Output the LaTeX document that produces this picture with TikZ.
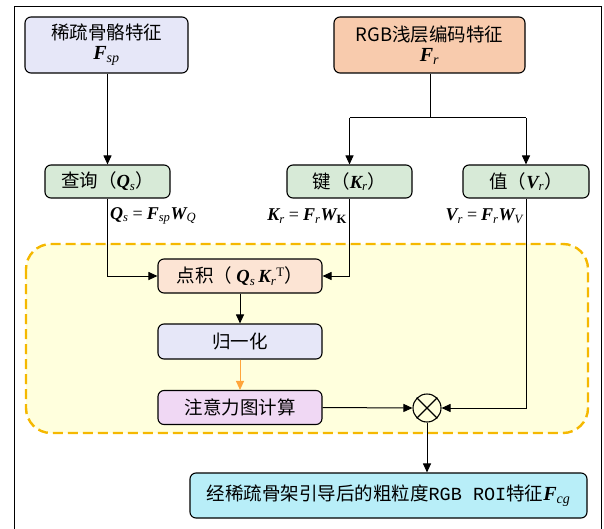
\documentclass[tikz,border=0pt]{standalone}
\usepackage{fontspec}
\setmainfont{Noto Sans CJK SC}
\newfontfamily\tnr{Liberation Serif}
\newfontfamily\monof{Liberation Mono}
\usetikzlibrary{arrows.meta}
\newcommand{\bv}[2]{{\tnr\bfseries\itshape #1}{\tnr\itshape\textsubscript{#2}}}
\definecolor{cLav}{HTML}{E6E7F8}
\definecolor{cOra}{HTML}{F8CBAD}
\definecolor{cGrn}{HTML}{D7EAD7}
\definecolor{cPch}{HTML}{FCE4D4}
\definecolor{cPur}{HTML}{F0D8F4}
\definecolor{cCyn}{HTML}{B8EEF8}
\definecolor{cYel}{HTML}{FFFFDD}
\definecolor{cDash}{HTML}{F5B800}
\definecolor{cArr}{HTML}{FFA53C}
\tikzset{
  box/.style={draw=black, line width=1.1pt, rounded corners=6pt, align=center,
    inner sep=0pt, font=\fontsize{18.5}{21}\selectfont},
  arr/.style={-{Triangle[length=9pt,width=8pt]}, line width=1pt},
  ln/.style={line width=1pt},
  lbl/.style={font=\fontsize{18}{20}\selectfont, inner sep=0pt}
}
\begin{document}
\begin{tikzpicture}[x=1pt,y=-1pt]
\useasboundingbox (0,0) rectangle (604,529);
% frame
\draw[line width=1pt] (14,529) -- (14,7) -- (601,7) -- (601,529);
% dashed region
\draw[draw=cDash, fill=cYel, line width=2.4pt, dash pattern=on 10pt off 5pt, rounded corners=25pt]
  (26,244) rectangle (588,433);
% nodes
\node[box, fill=cLav, minimum width=163pt, minimum height=56pt] (sp) at (106.5,45)
  {稀疏骨骼特征\\[-1pt]{\fontsize{20}{20}\selectfont\bv{F}{sp}}};
\node[box, fill=cOra, minimum width=191pt, minimum height=56pt] (rgb) at (429.5,45)
  {RGB浅层编码特征\\[-1pt]{\fontsize{20}{20}\selectfont\bv{F}{r}}};
\node[box, fill=cGrn, minimum width=125pt, minimum height=33pt] (q) at (107.5,181.5)
  {查询（\bv{Q}{s}）};
\node[box, fill=cGrn, minimum width=125pt, minimum height=33pt] (k) at (349.5,181.5)
  {键（\bv{K}{r}）};
\node[box, fill=cGrn, minimum width=126pt, minimum height=33pt] (v) at (526,181.5)
  {值（\bv{V}{r}）};
\node[box, fill=cPch, minimum width=164pt, minimum height=34pt] (dot) at (240,276)
  {点积（ \bv{Q}{s}\,\bv{K}{r}\textsuperscript{\tnr T}）};
\node[box, fill=cLav, minimum width=164pt, minimum height=35pt] (norm) at (240,341.5)
  {归一化};
\node[box, fill=cPur, minimum width=164pt, minimum height=34pt] (att) at (240,407.5)
  {注意力图计算};
\node[draw, circle, line width=1.1pt, minimum size=28pt, inner sep=0pt] (ot) at (427,408) {};
\draw[line width=1.1pt] (ot.45) -- (ot.225) (ot.135) -- (ot.315);
\node[box, fill=cCyn, minimum width=397pt, minimum height=45pt] (fin) at (388.5,495.5)
  {经稀疏骨架引导后的粗粒度{\monof RGB ROI}特征{\fontsize{20}{20}\selectfont\bv{F}{cg}}};
% labels
\node[lbl, anchor=west] (lq) at (110,216) {\bv{Q}{s}\ {\tnr =}\ \bv{F}{sp}\bv{W}{Q}};
\node[lbl, anchor=east] (lk) at (347,216) {\bv{K}{r}\ {\tnr =}\ \bv{F}{r}{\tnr\bfseries\itshape W}\textsubscript{\tnr\bfseries K}};
\node[lbl, anchor=east] (lv) at (523,216) {\bv{V}{r}\ {\tnr =}\ \bv{F}{r}\bv{W}{V}};
% connectors
\coordinate (br) at (430,118);
\draw[arr] (sp.south -| q.north) -- (q.north);
\draw[ln] (rgb.south -| br) -- (br);
\draw[ln] (k.north |- br) -- (v.north |- br);
\draw[arr] (k.north |- br) -- (k.north);
\draw[arr] (v.north |- br) -- (v.north);
\draw[arr] (q.south) |- (dot.west);
\draw[arr] (k.south) |- (dot.east);
\draw[arr] (dot.south) -- (norm.north);
\draw[arr, draw=cArr, fill=cArr] (norm.south) -- (att.north);
\draw[arr] (att.east) -- (ot.west);
\draw[arr] (v.south) |- (ot.east);
\draw[arr] (ot.south) -- (ot.south |- fin.north);
\end{tikzpicture}
\end{document}
